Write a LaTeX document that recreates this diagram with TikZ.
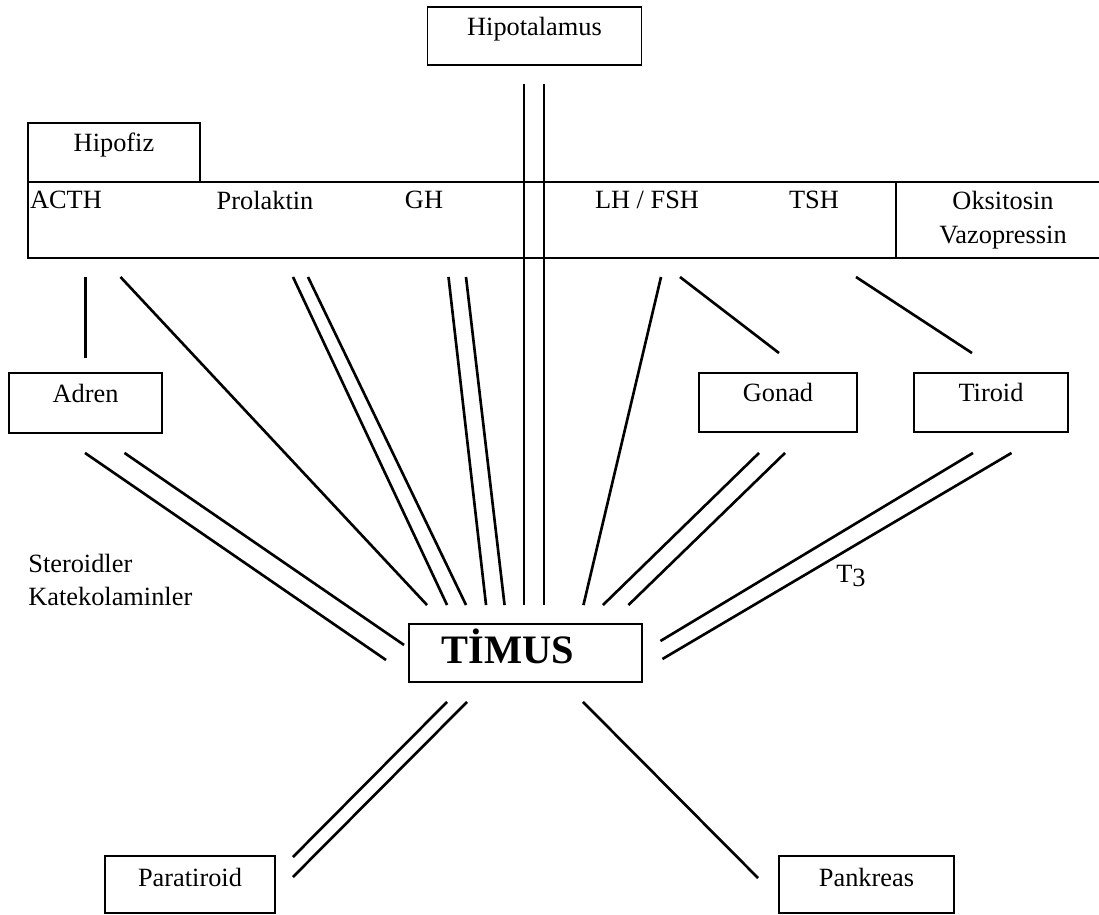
\documentclass[tikz,border=0pt]{standalone}
\usepackage{fontspec}
\setmainfont{Liberation Serif}
\usepackage{tikz}
\usetikzlibrary{calc}

\begin{document}
\begin{tikzpicture}[x=0.02cm, y=-0.02cm,
    every node/.style = {font=\fontsize{15}{19}\selectfont},
    organ/.style = {draw, line width=1.1pt, text height=11pt, text depth=12pt, inner sep=0pt},
    hormone/.style = {inner sep=0pt},
    link/.style = {line width=1.5pt}]
    \useasboundingbox (0,0) rectangle (1099,915);

    \node[organ, minimum width=4.28cm, minimum height=1.16cm] (hipotalamus) at (534.5,36) {Hipotalamus};
    \node[organ, minimum width=3.44cm, minimum height=1.18cm] (hipofiz) at (114,152.5) {Hipofiz};
    \node[draw, line width=1.1pt, minimum width=21.64cm, minimum height=1.52cm] (hormon) at (569,220) {};
    \node[draw, line width=1.1pt, minimum width=4.28cm, minimum height=1.52cm, align=center] (oksitosin) at (1003,220) {Oksitosin\\Vazopressin};

    \node[hormone] (acth) at (66,200) {ACTH};
    \node[hormone] (prl) at (265,200) {Prolaktin};
    \node[hormone] (gh) at (424,200) {GH};
    \node[hormone] (lhfsh) at (647,200) {LH / FSH};
    \node[hormone] (tsh) at (814,200) {TSH};

    \node[organ, minimum width=3.06cm, minimum height=1.2cm] (adren) at (85.5,403) {Adren};
    \node[organ, minimum width=3.16cm, minimum height=1.18cm] (gonad) at (778,402.5) {Gonad};
    \node[organ, minimum width=3.08cm, minimum height=1.18cm] (tiroid) at (991,402.5) {Tiroid};
    \node[organ, minimum width=4.66cm, minimum height=1.16cm, text height=15pt, text depth=3pt,
          font=\bfseries\fontsize{23}{26}\selectfont] (timus) at (525.5,653) {\hspace*{-0.7cm}TİMUS};
    \node[organ, minimum width=3.4cm, minimum height=1.14cm, text depth=9pt] (paratiroid) at (190,884.5) {Paratiroid};
    \node[organ, minimum width=3.5cm, minimum height=1.14cm, text depth=9pt] (pankreas) at (866.5,884.5) {Pankreas};

    \node[hormone, anchor=west, align=left] (steroid) at (28,580) {Steroidler\\Katekolaminler};
    \node[hormone] (t3) at (851,576) {T\raisebox{-0.35ex}{3}};

    % hipofiz hormonlari
    \draw[link] ($(acth)+(19.5,77)$) -- ($(adren.north)+(0,-14)$);
    \draw[link] ($(acth)+(54.5,77)$) -- ($(timus.north west)+(19,-18)$);
    \draw[link] ($(prl)+(28,77)$) -- ($(timus.north west)+(39,-18)$);
    \draw[link] ($(prl)+(43,77)$) -- ($(timus.north west)+(58,-18)$);
    \draw[link] ($(gh)+(24.5,77)$) -- ($(timus.north west)+(78,-18)$);
    \draw[link] ($(gh)+(42,77)$) -- ($(timus.north west)+(96.5,-18)$);
    \draw[link] ($(hipotalamus.south)+(-10.5,18)$) -- ($(timus.north)+(-1.5,-18)$);
    \draw[link] ($(hipotalamus.south)+(9.5,18)$) -- ($(timus.north)+(18.5,-18)$);
    \draw[link] ($(lhfsh)+(14,77)$) -- ($(timus.north east)+(-59.5,-18)$);
    \draw[link] ($(lhfsh)+(33,77)$) -- ($(gonad.north)+(1,-19)$);
    \draw[link] ($(tsh)+(42,77)$) -- ($(tiroid.north)+(-19,-19)$);

    % bezler ve timus
    \draw[link] ($(adren.south)+(-0.5,19)$) -- ($(timus.west)+(-22,7)$);
    \draw[link] ($(adren.south)+(39,19)$) -- ($(timus.west)+(-4,-8)$);
    \draw[link] ($(gonad.south)+(-19,20)$) -- ($(timus.north east)+(-40,-18)$);
    \draw[link] ($(gonad.south)+(7,20)$) -- ($(timus.north east)+(-14.5,-18)$);
    \draw[link] ($(tiroid.south)+(-18,20)$) -- ($(timus.east)+(17.5,-12)$);
    \draw[link] ($(tiroid.south)+(20.5,20)$) -- ($(timus.east)+(19.5,6)$);
    \draw[link] ($(timus.south)+(-78.5,19)$) -- ($(paratiroid.east)+(17,-27.5)$);
    \draw[link] ($(timus.south)+(-58.5,19)$) -- ($(paratiroid.east)+(17,-7.5)$);
    \draw[link] ($(timus.south)+(57.5,19)$) -- ($(pankreas.west)+(-20,-6.5)$);
\end{tikzpicture}
\end{document}
